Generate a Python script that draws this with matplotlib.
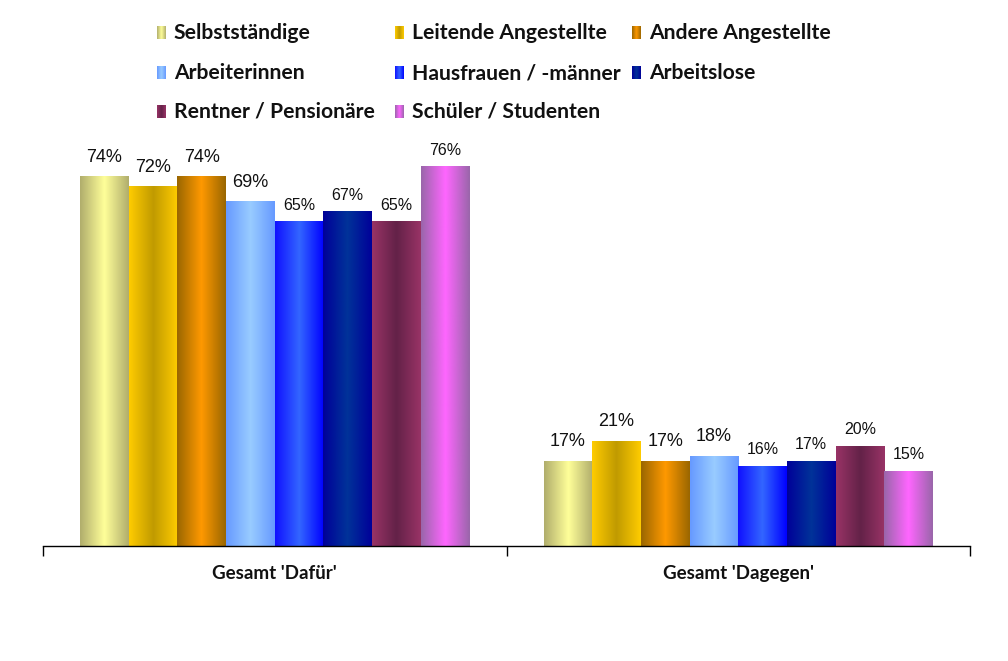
import numpy as np
import matplotlib
matplotlib.use("Agg")
import matplotlib.pyplot as plt
from matplotlib.colors import LinearSegmentedColormap

# Daten
kategorien = ["Gesamt 'Dafür'", "Gesamt 'Dagegen'"]
gruppen = ["Selbstständige", "Leitende Angestellte", "Andere Angestellte",
           "Arbeiterinnen", "Hausfrauen / -männer", "Arbeitslose",
           "Rentner / Pensionäre", "Schüler / Studenten"]
werte_dafuer = [74, 72, 74, 69, 65, 67, 65, 76]
werte_dagegen = [17, 21, 17, 18, 16, 17, 20, 15]

# Verlaufsfarben (Rand, Mitte, Rand)
farben = [
    ("#B0AD6C", "#FFFF99", "#B0AD6C"),
    ("#FFCC00", "#C09A00", "#FFCC00"),
    ("#996600", "#FF9900", "#996600"),
    ("#6699FF", "#99CCFF", "#6699FF"),
    ("#1010FF", "#3366FF", "#0000FF"),
    ("#000099", "#003399", "#000099"),
    ("#993366", "#632248", "#993366"),
    ("#9966AA", "#FF66FF", "#9966AA"),
]
cmaps = [LinearSegmentedColormap.from_list(f"g{i}", c) for i, c in enumerate(farben)]
grad = np.linspace(0, 1, 256).reshape(1, -1)

fig = plt.figure(figsize=(10.08, 6.61), dpi=100)
ax = fig.add_axes([43 / 1008, 115 / 661, 927 / 1008, 399 / 661])

breite = 0.105
n = len(gruppen)
werte = np.array([werte_dafuer, werte_dagegen])
for k in range(len(kategorien)):
    for i in range(n):
        x0 = k - n * breite / 2 + i * breite
        v = werte[k, i]
        ax.imshow(grad, extent=(x0, x0 + breite, 0, v), aspect="auto",
                  cmap=cmaps[i], interpolation="bicubic", zorder=2)
        gross = i < 4
        ax.annotate(f"{v}%", (x0 + breite / 2, v),
                    xytext=(0, 8 if gross else 6.5), textcoords="offset points",
                    ha="center", va="bottom", fontsize=13 if gross else 11.5,
                    family="Liberation Sans", color="#111111")

ax.set_xlim(-0.5, 1.5)
ax.set_ylim(0, 80)
for s in ["left", "right", "top"]:
    ax.spines[s].set_visible(False)
ax.spines["bottom"].set_linewidth(1.0)
ax.set_yticks([])
ax.set_xticks([-0.5, 0.5, 1.5])
ax.set_xticklabels([])
ax.tick_params(axis="x", direction="out", length=7, width=1.0)
for k, name in enumerate(kategorien):
    ax.text(k, -5.6, name, ha="center", va="center", fontsize=13.5,
            fontweight="bold", family="Lato", color="#111111")

# Legende in Pixelkoordinaten
lg = fig.add_axes([0, 0, 1, 1], zorder=5)
lg.set_xlim(0, 1008)
lg.set_ylim(661, 0)
lg.axis("off")
spalten_x = [157, 395, 632]
zeilen_y = [33, 73, 112]
for i, name in enumerate(gruppen):
    sx = spalten_x[i % 3]
    sy = zeilen_y[i // 3]
    lg.imshow(grad, extent=(sx, sx + 9, sy + 6.5, sy - 6.5), aspect="auto",
              cmap=cmaps[i], interpolation="bicubic")
    lg.text(sx + 17, sy, name, ha="left", va="center", fontsize=15.2,
            fontweight="bold", family="Lato", color="#111111")
lg.set_xlim(0, 1008)
lg.set_ylim(661, 0)

fig.savefig("out.png", dpi=100)
